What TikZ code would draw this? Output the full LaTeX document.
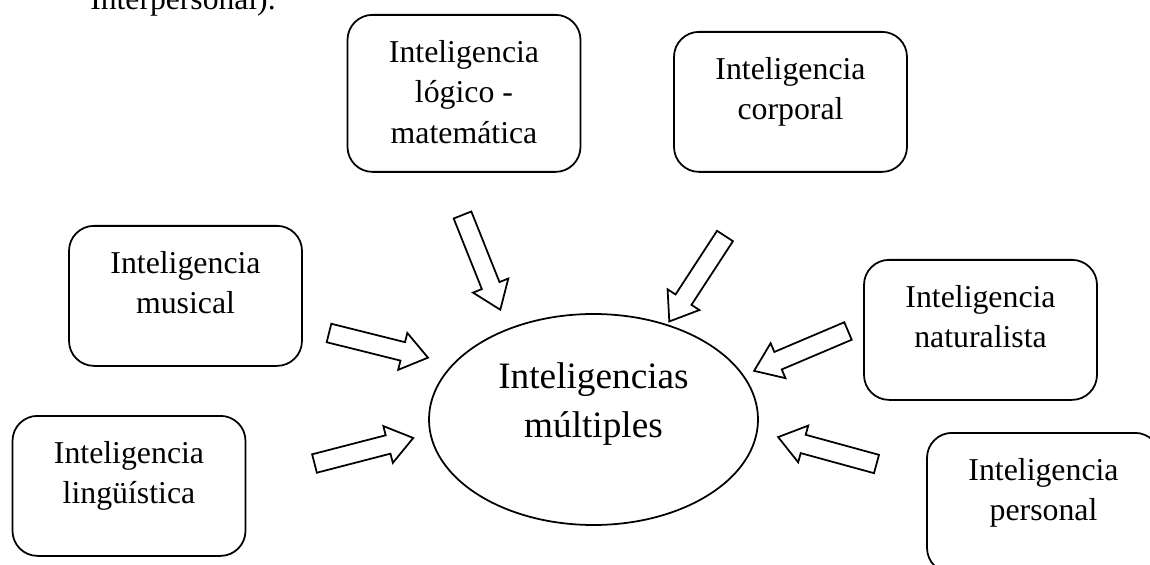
\documentclass[tikz,border=0pt]{standalone}
\usepackage{fontspec}
\setmainfont{Liberation Serif}
\usetikzlibrary{shapes.geometric,positioning}

\newcommand{\cajatexto}[2]{\parbox[c][#1][t]{4.66cm}{\centering\vspace*{14.4pt}#2}}

\tikzset{
	caja/.style={draw, line width=1pt, rounded corners=0.5cm, inner sep=0pt, anchor=north, font=\fontsize{18.1}{23}\selectfont},
	centro/.style={draw, ellipse, line width=1pt, minimum width=6.58cm, minimum height=4.22cm, inner sep=0pt, font=\fontsize{21.2}{27.8}\selectfont},
	flecha/.pic={\draw[line width=1pt] (0,-0.19) -- (1.52,-0.19) -- (1.52,-0.38) -- (2.04,0) -- (1.52,0.38) -- (1.52,0.19) -- (0,0.19) -- cycle;}
}

\begin{document}
\begin{tikzpicture}
	\useasboundingbox (0,0) rectangle (23,11.28);
	\node[anchor=base west, inner sep=0pt, font=\fontsize{18}{21}\selectfont] (interp) at (1.8,11.08) {Interpersonal).};
	% cajas
	\node[caja] (logico) at (9.28,11.0) {\cajatexto{3.14cm}{Inteligencia\\lógico -\\matemática}};
	\node[caja] (corporal) at (15.81,10.66) {\cajatexto{2.8cm}{Inteligencia\\corporal}};
	\node[caja] (musical) at (3.71,6.78) {\cajatexto{2.8cm}{Inteligencia\\musical}};
	\node[caja] (naturalista) at (19.61,6.10) {\cajatexto{2.8cm}{Inteligencia\\naturalista}};
	\node[caja] (linguistica) at (2.58,2.98) {\cajatexto{2.8cm}{Inteligencia\\lingüística}};
	\node[caja] (personal) at (20.87,2.64) {\cajatexto{2.8cm}{Inteligencia\\personal}};
	% centro
	\node[centro] (multiples) at (11.87,2.89) {\parbox[c][2.38cm][t]{4.6cm}{\centering\vspace*{1.4pt}Inteligencias\\múltiples}};
	% flechas
	\pic[rotate=-68.25] at (9.25,6.98) {flecha};
	\pic[rotate=-123.1] at (14.5,6.56) {flecha};
	\pic[rotate=-14] at (6.58,4.62) {flecha};
	\pic[rotate=-157] at (16.96,4.66) {flecha};
	\pic[rotate=14.5] at (6.29,2.01) {flecha};
	\pic[rotate=164.7] at (17.53,2.0) {flecha};
\end{tikzpicture}
\end{document}
